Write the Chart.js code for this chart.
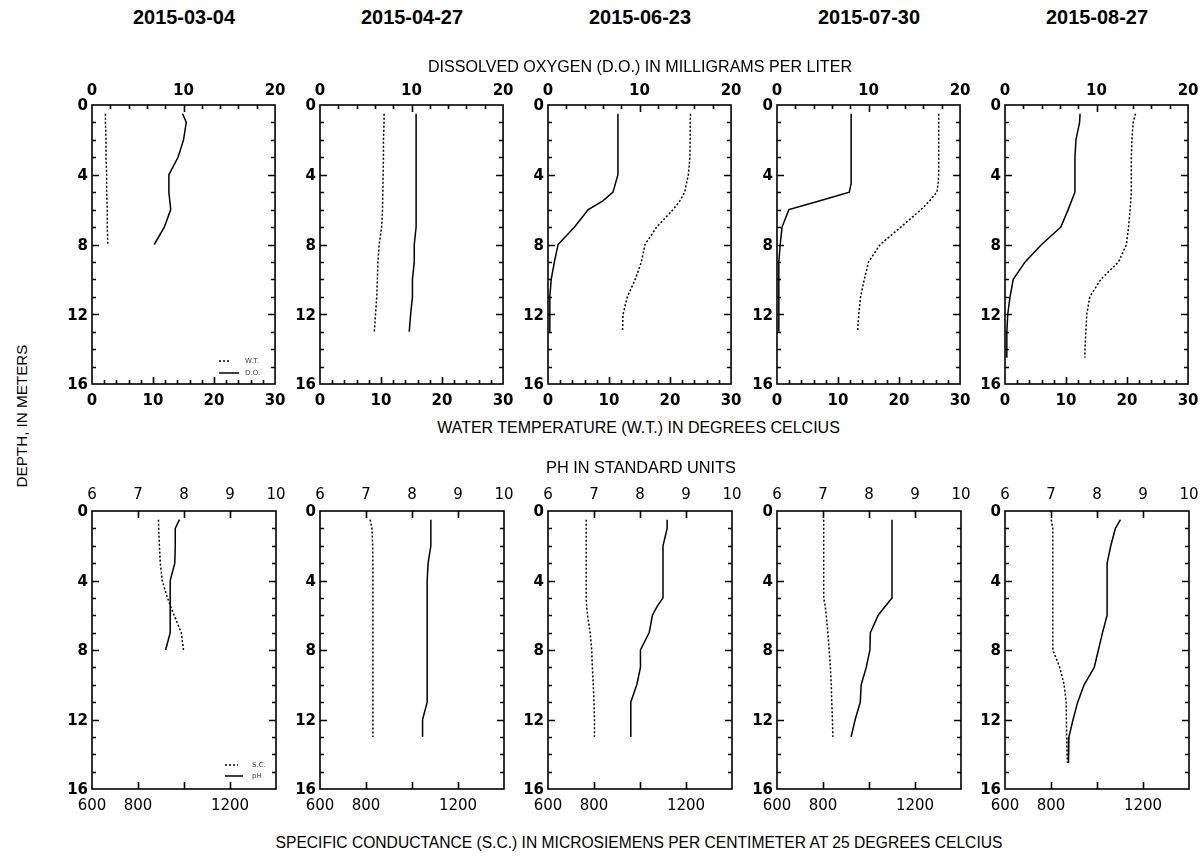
<!DOCTYPE html>
<html><head><meta charset="utf-8">
<script src="https://cdn.jsdelivr.net/npm/chart.js@4.4.1/dist/chart.umd.min.js"></script>
<style>
html,body{margin:0;padding:0;background:#fff;}
#page{position:relative;width:1201px;height:856px;overflow:hidden;color:#000;}
canvas{position:absolute;}
.txt{position:absolute;white-space:nowrap;line-height:1;font-family:'Liberation Sans',Arial,sans-serif;color:#000;}
</style></head><body><div id="page"></div>
<script>
// ---------------- DATA ----------------
const dates = ['2015-03-04', '2015-04-27', '2015-06-23', '2015-07-30', '2015-08-27'];

// depths (m) of each profile
const depth0304 = [0.5, 1, 2, 3, 4, 5, 5.5, 6, 7, 8];
const depth0427 = [0.5, 1, 2, 3, 4, 5, 6, 7, 8, 9, 10, 11, 12, 13];
const depth0623 = [0.5, 1, 2, 3, 4, 5, 5.5, 6, 7, 8, 9, 10, 11, 12, 13];
const depth0730 = [0.5, 1, 2, 3, 4, 4.5, 5, 5.5, 6, 7, 8, 9, 10, 11, 12, 13];
const depth0827 = [0.5, 1, 2, 3, 4, 5, 6, 7, 8, 9, 10, 11, 12, 13, 14, 14.5];

// water temperature (deg C)
const wt0304 = [2.2, 2.2, 2.3, 2.3, 2.4, 2.4, 2.45, 2.5, 2.5, 2.6];
const wt0427 = [10.5, 10.5, 10.4, 10.4, 10.35, 10.3, 10.25, 10.1, 9.7, 9.5, 9.4, 9.3, 9.1, 8.9];
const wt0623 = [23.35, 23.3, 23.3, 23.25, 23.0, 22.4, 21.6, 20.5, 17.8, 15.9, 15.3, 14.3, 13.0, 12.3, 12.2];
const wt0730 = [26.5, 26.5, 26.5, 26.5, 26.5, 26.4, 26.2, 25.0, 23.6, 20.3, 16.9, 15.0, 14.3, 13.7, 13.4, 13.2];
const wt0827 = [21.4, 21.0, 20.8, 20.7, 20.7, 20.7, 20.5, 20.25, 19.9, 18.6, 15.7, 13.9, 13.4, 13.25, 13.1, 13.1];

// dissolved oxygen (mg/L)
const do0304 = [9.9, 10.3, 10.0, 9.4, 8.4, 8.4, 8.5, 8.6, 7.9, 6.8];
const do0427 = [10.5, 10.5, 10.5, 10.5, 10.5, 10.5, 10.5, 10.5, 10.3, 10.3, 10.1, 10.1, 9.9, 9.75];
const do0623 = [7.64, 7.64, 7.64, 7.64, 7.64, 7.1, 6.0, 4.4, 2.9, 1.1, 0.7, 0.35, 0.2, 0.2, 0.2];
const do0730 = [8.1, 8.1, 8.1, 8.1, 8.1, 8.1, 7.9, 4.6, 1.3, 0.55, 0.35, 0.2, 0.2, 0.2, 0.2, 0.2];
const do0827 = [8.2, 8.15, 7.75, 7.64, 7.64, 7.64, 6.9, 6.1, 4.0, 2.2, 0.9, 0.55, 0.3, 0.2, 0.2, 0.2];

// specific conductance (uS/cm at 25 C)
const sc0304 = [889, 890, 893, 897, 905, 928, 942, 957, 988, 998];
const sc0427 = [818, 826, 829, 830, 830, 830, 830, 830, 830, 830, 830, 830, 830, 830];
const sc0623 = [766, 766, 766, 766, 766, 766, 768, 772, 783, 790, 793, 797, 800, 802, 802];
const sc0730 = [803, 803, 803, 803, 803, 803, 803, 810, 814, 821, 827, 832, 836, 838, 841, 843];
const sc0827 = [801, 808, 808, 808, 808, 808, 808, 808, 808, 838, 857, 866, 867, 868, 870, 872];

// pH (standard units)
const ph0304 = [7.9, 7.81, 7.81, 7.8, 7.7, 7.7, 7.7, 7.7, 7.7, 7.6];
const ph0427 = [8.41, 8.41, 8.41, 8.35, 8.33, 8.33, 8.33, 8.33, 8.33, 8.33, 8.33, 8.33, 8.23, 8.23];
const ph0623 = [8.59, 8.59, 8.5, 8.5, 8.5, 8.5, 8.37, 8.27, 8.2, 8.01, 8.01, 7.93, 7.8, 7.8, 7.8];
const ph0730 = [8.5, 8.5, 8.5, 8.5, 8.5, 8.5, 8.5, 8.35, 8.2, 8.03, 8.02, 7.94, 7.83, 7.81, 7.7, 7.61];
const ph0827 = [8.51, 8.4, 8.3, 8.22, 8.22, 8.22, 8.22, 8.12, 8.03, 7.94, 7.72, 7.58, 7.48, 7.39, 7.38, 7.38];

// axis ranges / tick labels
const depthTicks = [0, 4, 8, 12, 16];
const doTicks = [0, 10, 20];
const wtTicks = [0, 10, 20, 30];
const phTicks = [6, 7, 8, 9, 10];
const scTickLabels = [600, 800, 1200];

const depths = [depth0304, depth0427, depth0623, depth0730, depth0827];
const wtSeries = [wt0304, wt0427, wt0623, wt0730, wt0827];
const doSeries = [do0304, do0427, do0623, do0730, do0827];
const scSeries = [sc0304, sc0427, sc0623, sc0730, sc0827];
const phSeries = [ph0304, ph0427, ph0623, ph0730, ph0827];

// ---------------- LAYOUT ----------------
const page = document.getElementById('page');
const PANEL_LEFT = [92, 320, 548, 777, 1005];
const PANEL_W = 184;
const ROWS = [{top: 105, h: 279}, {top: 511, h: 278}];
const LEFTW = 44, TOPH = 34, BOTH = 34, RIGHTPAD = 18;
const FAM = "'DejaVu Sans'";
Chart.defaults.font.family = FAM;
Chart.defaults.color = '#000';

const measureCtx = document.createElement('canvas').getContext('2d');
function addText(str, cx, cy, opts) {
  const weight = opts.bold ? 'bold ' : '';
  const fam = "'Liberation Sans', Arial, sans-serif";
  measureCtx.font = weight + '100px ' + fam;
  const w = measureCtx.measureText(str).width;
  const size = 100 * opts.width / w;
  const d = document.createElement('div');
  d.className = 'txt';
  d.textContent = str;
  d.style.fontSize = size.toFixed(2) + 'px';
  if (opts.bold) d.style.fontWeight = 'bold';
  d.style.left = cx + 'px';
  d.style.top = cy + 'px';
  d.style.transform = 'translate(-50%,-50%)' + (opts.rotate ? ' rotate(-90deg)' : '');
  page.appendChild(d);
}

const TICK_STEPS = {
  top: {y: 1, yMaj: 4, t: 2, tMaj: 10, b: 2, bMaj: 10},
  bottom: {y: 1, yMaj: 4, t: 1, tMaj: 1, b: 200, bMaj: 200}
};

function drawFrame(chart, spec, legend) {
  const ctx = chart.ctx, a = chart.chartArea;
  const sy = chart.scales.y, st = chart.scales.xt, sb = chart.scales.xb;
  ctx.save();
  ctx.setLineDash([]);
  ctx.strokeStyle = '#000';
  ctx.lineWidth = 1.6;
  const tickSet = (scale, step, major, cb) => {
    const n = Math.round((scale.max - scale.min) / step);
    for (let i = 1; i < n; i++) {
      const v = scale.min + i * step;
      const p = Math.round(scale.getPixelForValue(v)) + 0.5;
      const r = (v - scale.min) / major;
      const isMaj = Math.abs(r - Math.round(r)) < 1e-6;
      cb(p, isMaj ? 7 : 4);
    }
  };
  ctx.beginPath();
  tickSet(sy, spec.y, spec.yMaj, (p, l) => { ctx.moveTo(a.left, p); ctx.lineTo(a.left + l, p); ctx.moveTo(a.right, p); ctx.lineTo(a.right - l, p); });
  tickSet(st, spec.t, spec.tMaj, (p, l) => { ctx.moveTo(p, a.top); ctx.lineTo(p, a.top + l); });
  tickSet(sb, spec.b, spec.bMaj, (p, l) => { ctx.moveTo(p, a.bottom); ctx.lineTo(p, a.bottom - l); });
  ctx.stroke();
  ctx.lineWidth = 1.6;
  ctx.strokeRect(a.left, a.top, a.right - a.left, a.bottom - a.top);
  if (legend) {
    const L = legend;
    ctx.lineWidth = 1.5;
    ctx.setLineDash([2, 2]);
    ctx.beginPath();
    ctx.moveTo(a.right - L.x1, a.bottom - L.y1); ctx.lineTo(a.right - L.x2d, a.bottom - L.y1);
    ctx.stroke();
    ctx.setLineDash([]);
    ctx.beginPath();
    ctx.moveTo(a.right - L.x1, a.bottom - L.y2); ctx.lineTo(a.right - L.x2s, a.bottom - L.y2);
    ctx.stroke();
    ctx.fillStyle = '#3c3c5c';
    ctx.font = L.font + ' ' + FAM;
    ctx.textBaseline = 'middle';
    ctx.textAlign = 'left';
    ctx.fillText(L.labels[0], a.right - L.tx, a.bottom - L.y1);
    ctx.fillText(L.labels[1], a.right - L.tx, a.bottom - L.y2);
  }
  ctx.restore();
}

function makePanel(row, col) {
  const R = ROWS[row];
  const cw = LEFTW + PANEL_W + RIGHTPAD, ch = TOPH + R.h + BOTH;
  const cv = document.createElement('canvas');
  cv.width = cw; cv.height = ch;
  cv.style.left = (PANEL_LEFT[col] - LEFTW) + 'px';
  cv.style.top = (R.top - TOPH) + 'px';
  page.appendChild(cv);

  const dep = depths[col];
  const isTop = row === 0;
  const dotVals = isTop ? wtSeries[col] : scSeries[col];
  const solVals = isTop ? doSeries[col] : phSeries[col];
  const boldF = {size: 15, weight: 'bold', family: FAM};
  const regF = {size: 15, weight: 'normal', family: FAM};
  const axisFont = isTop ? boldF : regF;

  const topTicks = isTop ? doTicks : phTicks;
  const botTicks = isTop ? wtTicks : scTickLabels;

  const xt = {
    type: 'linear', position: 'top',
    min: topTicks[0], max: topTicks[topTicks.length - 1],
    ticks: {stepSize: isTop ? 10 : 1, font: axisFont, color: '#000', padding: isTop ? 4.5 : 7, autoSkip: false, maxRotation: 0,
      callback: v => topTicks.includes(v) ? String(v) : ''},
    grid: {display: false, drawTicks: false}, border: {display: false},
    afterFit: s => { s.height = TOPH; }
  };
  const xb = {
    type: 'linear', position: 'bottom',
    min: isTop ? 0 : 600, max: isTop ? 30 : 1400,
    ticks: {stepSize: isTop ? 10 : 200, font: axisFont, color: '#000', padding: isTop ? 8.5 : 8, autoSkip: false, maxRotation: 0,
      callback: v => botTicks.includes(v) ? String(v) : ''},
    grid: {display: false, drawTicks: false}, border: {display: false},
    afterFit: s => { s.height = BOTH; }
  };
  const y = {
    type: 'linear', position: 'left', reverse: true,
    min: depthTicks[0], max: depthTicks[depthTicks.length - 1],
    ticks: {stepSize: 4, font: boldF, color: '#000', padding: 4, labelOffset: 1.5, autoSkip: false,
      callback: v => depthTicks.includes(v) ? String(v) : ''},
    grid: {display: false, drawTicks: false}, border: {display: false},
    afterFit: s => { s.width = LEFTW; }
  };

  const legend = col === 0 ? (isTop
    ? {labels: ['W.T.', 'D.O.'], x1: 56, x2d: 44, x2s: 36, tx: 30, y1: 23, y2: 11, font: '7px'}
    : {labels: ['S.C.', 'pH'], x1: 51, x2d: 38, x2s: 33, tx: 24, y1: 24, y2: 13, font: '7px'}) : null;
  const spec = isTop ? TICK_STEPS.top : TICK_STEPS.bottom;

  new Chart(cv, {
    type: 'scatter',
    data: {
      datasets: [
        {label: isTop ? 'W.T.' : 'S.C.', data: dep.map((d, i) => ({x: dotVals[i], y: d})),
          xAxisID: 'xb', yAxisID: 'y', showLine: true, borderColor: '#000', borderWidth: 1.5,
          borderDash: [2, 2], pointRadius: 0, fill: false, tension: 0},
        {label: isTop ? 'D.O.' : 'pH', data: dep.map((d, i) => ({x: solVals[i], y: d})),
          xAxisID: 'xt', yAxisID: 'y', showLine: true, borderColor: '#000', borderWidth: 1.5,
          pointRadius: 0, fill: false, tension: 0}
      ]
    },
    options: {
      responsive: false, animation: false, devicePixelRatio: 1,
      layout: {padding: {left: 0, top: 0, bottom: 0, right: RIGHTPAD}},
      plugins: {legend: {display: false}, tooltip: {enabled: false}},
      scales: {y, xt, xb}
    },
    plugins: [{id: 'frame' + row + col, afterDraw: ch => drawFrame(ch, spec, legend)}]
  });
}

for (let r = 0; r < 2; r++) for (let c = 0; c < 5; c++) makePanel(r, c);

// ---------------- TEXT ----------------
dates.forEach((d, i) => addText(d, PANEL_LEFT[i] + PANEL_W / 2, 18, {bold: true, width: 102}));
addText('DISSOLVED OXYGEN (D.O.) IN MILLIGRAMS PER LITER', 640, 66, {width: 424});
addText('WATER TEMPERATURE (W.T.) IN DEGREES CELCIUS', 638.5, 428, {width: 403});
addText('PH IN STANDARD UNITS', 641, 467, {width: 190});
addText('SPECIFIC CONDUCTANCE (S.C.) IN MICROSIEMENS PER CENTIMETER AT 25 DEGREES CELCIUS', 639, 843, {width: 728});
addText('DEPTH, IN METERS', 22, 416, {width: 143, rotate: true});
</script>
</body></html>
